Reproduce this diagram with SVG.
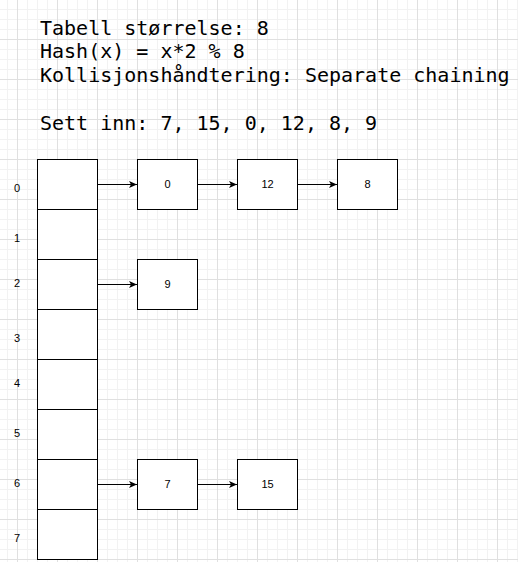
<svg xmlns="http://www.w3.org/2000/svg" width="518" height="562" viewBox="0 0 518 562">
<style>
.cell{fill:#fff;stroke:#000;stroke-width:1}
.lbl{font-family:"Liberation Sans",Arial,sans-serif;font-size:11px;fill:#000;text-anchor:middle}
.hdr{font-family:"DejaVu Sans Mono",monospace;font-size:20px;fill:#000}
.edge{stroke:#000;stroke-width:1;fill:none;marker-end:url(#arr)}
</style>
<defs>
<pattern id="grid" x="17" y="-1" width="40" height="40" patternUnits="userSpaceOnUse">
<path d="M10.5 0V40M20.5 0V40M30.5 0V40M0 10.5H40M0 20.5H40M0 30.5H40" stroke="#f2f2f2" stroke-width="1" fill="none"/>
<path d="M0.5 0V40M0 0.5H40" stroke="#e0e0e0" stroke-width="1" fill="none"/>
</pattern>
<marker id="arr" markerUnits="userSpaceOnUse" viewBox="0 0 8 7" refX="8" refY="3.5" markerWidth="8" markerHeight="7" orient="auto">
<path d="M0 0L8 3.5L0 7L2 3.5Z" fill="#000"/>
</marker>
</defs>
<rect width="518" height="562" fill="#fff"/>
<rect width="518" height="562" fill="url(#grid)"/>
<g id="header">
<text class="hdr" x="40" y="34.5">Tabell størrelse: 8</text>
<text class="hdr" x="40" y="58">Hash(x) = x*2 % 8</text>
<text class="hdr" x="40" y="81.5">Kollisjonshåndtering: Separate chaining</text>
<text class="hdr" x="40" y="129.5">Sett inn: 7, 15, 0, 12, 8, 9</text>
</g>
<g id="indices">
<text class="lbl" x="17" y="191.5">0</text>
<text class="lbl" x="17" y="242">1</text>
<text class="lbl" x="17" y="287">2</text>
<text class="lbl" x="17" y="342">3</text>
<text class="lbl" x="17" y="387">4</text>
<text class="lbl" x="17" y="437">5</text>
<text class="lbl" x="17" y="487">6</text>
<text class="lbl" x="17" y="542">7</text>
</g>
<g id="array">
<rect id="slot0" class="cell" x="37.5" y="159.5" width="60" height="50"/>
<rect id="slot1" class="cell" x="37.5" y="209.5" width="60" height="50"/>
<rect id="slot2" class="cell" x="37.5" y="259.5" width="60" height="50"/>
<rect id="slot3" class="cell" x="37.5" y="309.5" width="60" height="50"/>
<rect id="slot4" class="cell" x="37.5" y="359.5" width="60" height="50"/>
<rect id="slot5" class="cell" x="37.5" y="409.5" width="60" height="50"/>
<rect id="slot6" class="cell" x="37.5" y="459.5" width="60" height="50"/>
<rect id="slot7" class="cell" x="37.5" y="509.5" width="60" height="50"/>
</g>
<g id="connectors">
<path class="edge" d="M97.5 184.5H137"/>
<path class="edge" d="M197.5 184.5H237"/>
<path class="edge" d="M297.5 184.5H337"/>
<path class="edge" d="M97.5 284.5H137"/>
<path class="edge" d="M97.5 484.5H137"/>
<path class="edge" d="M197.5 484.5H237"/>
</g>
<g id="node-0"><rect class="cell" x="137.5" y="159.5" width="60" height="50"/><text class="lbl" x="167.5" y="188">0</text></g>
<g id="node-12"><rect class="cell" x="237.5" y="159.5" width="60" height="50"/><text class="lbl" x="267.5" y="188">12</text></g>
<g id="node-8"><rect class="cell" x="337.5" y="159.5" width="60" height="50"/><text class="lbl" x="367.5" y="188">8</text></g>
<g id="node-9"><rect class="cell" x="137.5" y="259.5" width="60" height="50"/><text class="lbl" x="167.5" y="288">9</text></g>
<g id="node-7"><rect class="cell" x="137.5" y="459.5" width="60" height="50"/><text class="lbl" x="167.5" y="488">7</text></g>
<g id="node-15"><rect class="cell" x="237.5" y="459.5" width="60" height="50"/><text class="lbl" x="267.5" y="488">15</text></g>
</svg>
